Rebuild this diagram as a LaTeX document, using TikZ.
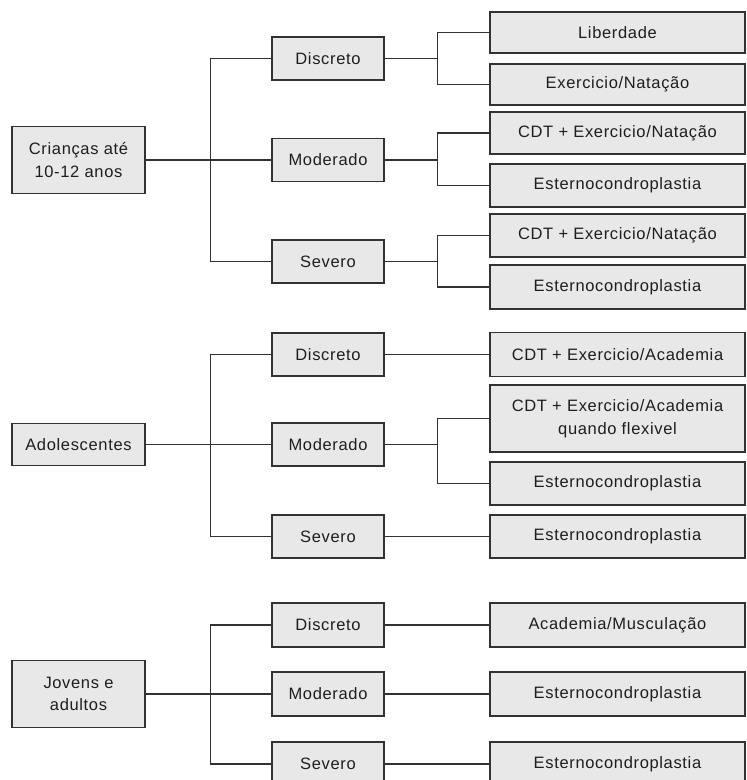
\documentclass[tikz,border=0pt]{standalone}
\usepackage{fontspec}
\setmainfont[LetterSpace=4]{Liberation Sans}
\definecolor{boxfill}{RGB}{232,232,232}
\definecolor{boxline}{RGB}{50,50,50}
\definecolor{txt}{RGB}{30,30,30}
\begin{document}
\begin{tikzpicture}[x=1pt,y=-1pt,
  bx/.style={draw=boxline,line width=1.4pt,fill=boxfill,text=txt,inner sep=0pt,
    align=center,font=\fontsize{16.5}{22.5}\selectfont,anchor=center},
  root/.style={bx,minimum width=133pt},
  mid/.style={bx,minimum width=112pt,minimum height=43pt},
  leaf/.style={bx,minimum width=255pt,minimum height=42pt},
  conn/.style={draw=boxline,line width=1.3pt}]
\clip (0,0) rectangle (747,780);
\fill[white] (0,0) rectangle (747,780);

% ---------- Group 1 ----------
\node[root,minimum height=67pt] (r1) at (78.5,160) {Crianças até\\10-12 anos};
\node[mid] (d1) at (328,58.5) {Discreto};
\node[mid] (m1) at (328,160) {Moderado};
\node[mid] (s1) at (328,261.5) {Severo};
\node[leaf,minimum height=41pt] (d1a) at (617.5,32.5) {Liberdade};
\node[leaf,minimum height=41pt] (d1b) at (617.5,84.5) {Exercicio/Natação};
\node[leaf] (m1a) at (617.5,133) {CDT + Exercicio/Natação};
\node[leaf,minimum height=43pt] (m1b) at (617.5,185.5) {Esternocondroplastia};
\node[leaf,minimum height=43pt] (s1a) at (617.5,235.5) {CDT + Exercicio/Natação};
\node[leaf,minimum height=44pt] (s1b) at (617.5,287) {Esternocondroplastia};

\draw[conn] (r1.east) -- (m1.west);
\draw[conn] (d1.west) -- ++(-61,0) coordinate (t1) |- (s1.west);
\draw[conn] (d1.east) -- ++(53,0) coordinate (j1);
\draw[conn] (d1a.west) -- (d1a.west -| j1) -- (d1b.west -| j1) -- (d1b.west);
\draw[conn] (m1.east) -- ++(53,0) coordinate (j2);
\draw[conn] (m1a.west) -- (m1a.west -| j2) -- (m1b.west -| j2) -- (m1b.west);
\draw[conn] (s1.east) -- ++(53,0) coordinate (j3);
\draw[conn] (s1a.west) -- (s1a.west -| j3) -- (s1b.west -| j3) -- (s1b.west);

% ---------- Group 2 ----------
\node[root,minimum height=42pt] (r2) at (78.5,444.5) {Adolescentes};
\node[mid] (d2) at (328,354.5) {Discreto};
\node[mid] (m2) at (328,444.5) {Moderado};
\node[mid] (s2) at (328,536.5) {Severo};
\node[leaf,minimum height=44pt] (d2a) at (617.5,354.5) {CDT + Exercicio/Academia};
\node[leaf,minimum height=67pt] (m2a) at (617.5,418.5) {CDT + Exercicio/Academia\\quando flexivel};
\node[leaf,minimum height=43pt] (m2b) at (617.5,483.5) {Esternocondroplastia};
\node[leaf,minimum height=43pt] (s2a) at (617.5,536.5) {Esternocondroplastia};

\draw[conn] (r2.east) -- (m2.west);
\draw[conn] (d2.west) -- ++(-61,0) |- (s2.west);
\draw[conn] (d2.east) -- (d2a.west);
\draw[conn] (m2.east) -- ++(53,0) coordinate (j4);
\draw[conn] (m2a.west) -- (m2a.west -| j4) -- (m2b.west -| j4) -- (m2b.west);
\draw[conn] (s2.east) -- (s2a.west);

% ---------- Group 3 ----------
\node[root,minimum height=67pt] (r3) at (78.5,694) {Jovens e\\adultos};
\node[mid,minimum height=44pt] (d3) at (328,625) {Discreto};
\node[mid,minimum height=44pt] (m3) at (328,694) {Moderado};
\node[mid,minimum height=44pt] (s3) at (328,764) {Severo};
\node[leaf,minimum height=44pt] (d3a) at (617.5,625) {Academia/Musculação};
\node[leaf,minimum height=44pt] (m3a) at (617.5,694) {Esternocondroplastia};
\node[leaf,minimum height=44pt] (s3a) at (617.5,764) {Esternocondroplastia};

\draw[conn] (r3.east) -- (m3.west);
\draw[conn] (d3.west) -- ++(-61,0) |- (s3.west);
\draw[conn] (d3.east) -- (d3a.west);
\draw[conn] (m3.east) -- (m3a.west);
\draw[conn] (s3.east) -- (s3a.west);
\end{tikzpicture}
\end{document}
